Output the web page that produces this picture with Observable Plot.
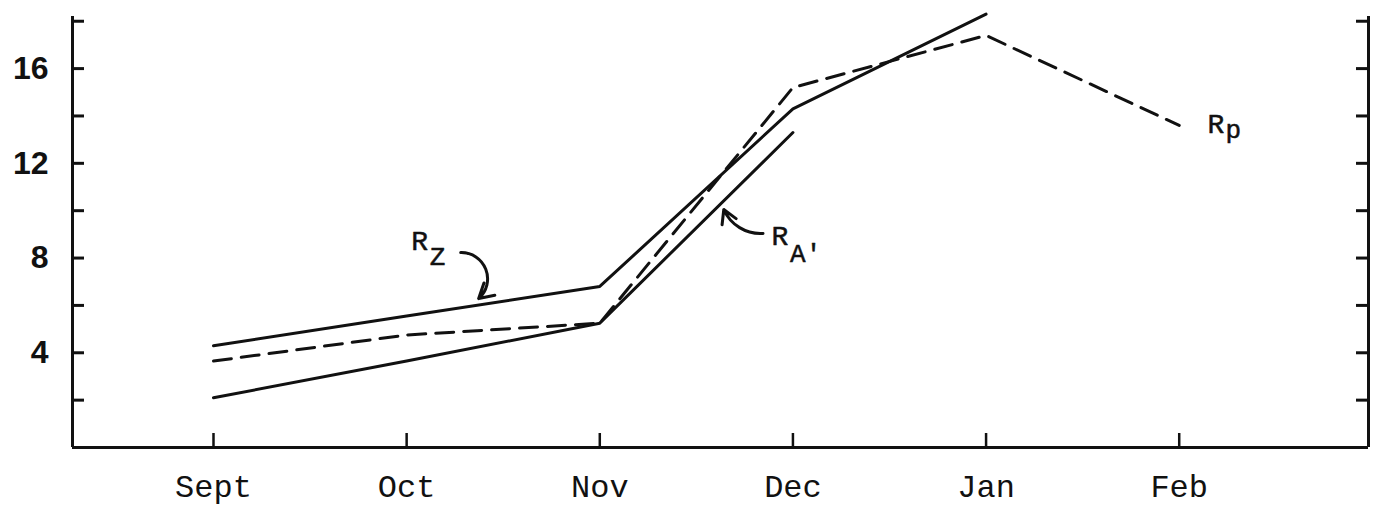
<!DOCTYPE html>
<html><head><meta charset="utf-8">
<script src="https://cdn.jsdelivr.net/npm/d3@7"></script>
<script src="https://cdn.jsdelivr.net/npm/@observablehq/plot@0.6"></script>
<style>html,body{margin:0;padding:0;background:#fff;} svg{display:block;background:#fff}</style>
</head><body><div id="chart"></div>
<script>
// categories
const months = ["Sept", "Oct", "Nov", "Dec", "Jan", "Feb"];
const monthIndex = [0, 1, 2, 3, 4, 5];
// series values
const rZ = [4.3, 5.55, 6.8, 14.3, 18.3];          // Sept..Jan, solid upper
const rA = [2.1, 3.65, 5.25, 13.3];               // Sept..Dec, solid lower
const rP = [3.65, 4.75, 5.25, 15.2, 17.4, 13.6];  // Sept..Feb, dashed
// tick labels
const yLabelTicks = [4, 8, 12, 16];
const yMinorTicks = [2, 4, 6, 8, 10, 12, 14, 16, 18];
// annotation labels (data coordinates: month index, value)
const labelMain = ["R", "R", "R"];
const labelMainX = [1.067, 2.933, 5.19];
const labelMainY = [8.35, 8.55, 13.3];
const labelSub = ["Z", "A'", "p"];
const labelSubX = [1.12, 2.985, 5.24];
const labelSubY = [7.7, 7.85, 13.05];
const arrowZ = {x1: 1.28, y1: 8.23, x2: 1.373, y2: 6.29};
const arrowA = {x1: 2.845, y1: 9.04, x2: 2.642, y2: 10.05};

const W = 1375, H = 509;
const mL = 72, mR = 7, mT = 16, mB = 62;
const frameW = W - mL - mR, frameH = H - mT - mB;
const xDom = [-0.73, 5.98];
const yDom = [0, 18.2];
const ink = "#111";

const series = (vals) => vals.map((v, i) => ({x: i, y: v}));
const mains = labelMain.map((t, i) => ({t, x: labelMainX[i], y: labelMainY[i]}));
const subs = labelSub.map((t, i) => ({t, x: labelSubX[i], y: labelSubY[i]}));

const chart = Plot.plot({
  width: W, height: H,
  marginLeft: mL, marginRight: mR, marginTop: mT, marginBottom: mB,
  x: {domain: xDom, axis: null},
  y: {domain: yDom, axis: null},
  style: {background: "#fff", color: ink},
  marks: [
    Plot.ruleX([xDom[0]], {stroke: ink, strokeWidth: 3}),
    Plot.ruleX([xDom[1]], {stroke: ink, strokeWidth: 3}),
    Plot.ruleY([yDom[0]], {stroke: ink, strokeWidth: 3}),
    Plot.tickY(yMinorTicks, {y: d => d, insetRight: frameW - 12, stroke: ink, strokeWidth: 3}),
    Plot.tickY(yMinorTicks, {y: d => d, insetLeft: frameW - 12, stroke: ink, strokeWidth: 3}),
    Plot.tickX(monthIndex, {x: d => d, insetTop: frameH - 14, stroke: ink, strokeWidth: 2.5}),
    Plot.axisY(yLabelTicks, {tickSize: 0, tickPadding: 24, fontSize: 32, fontWeight: "bold", fontFamily: "Liberation Sans", fill: ink}),
    Plot.axisX(monthIndex, {tickSize: 0, tickPadding: 27, tickFormat: i => months[i], fontSize: 32, fontFamily: "Liberation Mono", fill: ink, stroke: ink, strokeWidth: 0.6}),
    Plot.line(series(rZ), {x: "x", y: "y", stroke: ink, strokeWidth: 3, strokeLinejoin: "round"}),
    Plot.line(series(rA), {x: "x", y: "y", stroke: ink, strokeWidth: 3, strokeLinejoin: "round"}),
    Plot.line(series(rP), {x: "x", y: "y", stroke: ink, strokeWidth: 3, strokeDasharray: "18,10"}),
    Plot.text(mains, {x: "x", y: "y", text: "t", textAnchor: "middle", lineAnchor: "bottom", fontSize: 28, fontFamily: "Liberation Mono", fill: ink, stroke: ink, strokeWidth: 0.5}),
    Plot.text(subs, {x: "x", y: "y", text: "t", textAnchor: "start", lineAnchor: "bottom", fontSize: 26, fontFamily: "Liberation Mono", fill: ink, stroke: ink, strokeWidth: 0.5}),
    Plot.arrow([arrowZ], {x1: "x1", y1: "y1", x2: "x2", y2: "y2", bend: 70, stroke: ink, strokeWidth: 3, headLength: 14}),
    Plot.arrow([arrowA], {x1: "x1", y1: "y1", x2: "x2", y2: "y2", bend: 35, stroke: ink, strokeWidth: 3, headLength: 14})
  ]
});
document.getElementById("chart").appendChild(chart);
</script>
</body></html>
